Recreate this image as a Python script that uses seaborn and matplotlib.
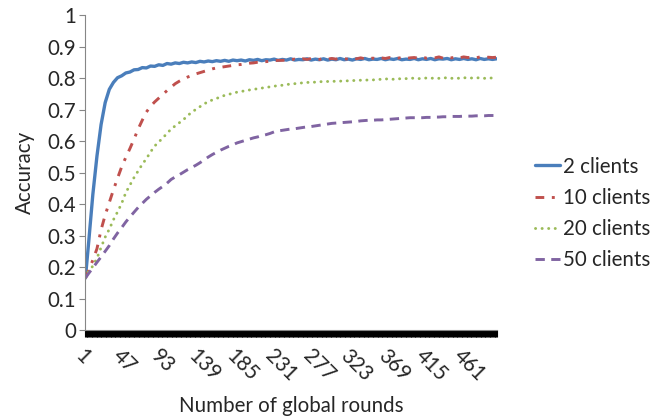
import numpy as np
import pandas as pd
import matplotlib
matplotlib.use("Agg")
import matplotlib.pyplot as plt
import seaborn as sns

# Training rounds at which accuracy was recorded (round 1, then every 5 rounds)
rounds = [1] + list(range(5, 501, 5))

acc_2_clients = [
    0.165, 0.280, 0.430, 0.552, 0.652, 0.722, 0.764, 0.786, 0.801, 0.807,
    0.816, 0.819, 0.826, 0.827, 0.833, 0.832, 0.838, 0.837, 0.842, 0.840,
    0.846, 0.844, 0.848, 0.846, 0.850, 0.848, 0.851, 0.849, 0.853, 0.851,
    0.854, 0.852, 0.855, 0.853, 0.856, 0.853, 0.857, 0.855, 0.857, 0.854,
    0.858, 0.856, 0.859, 0.855, 0.858, 0.857, 0.860, 0.856, 0.859, 0.857,
    0.861, 0.857, 0.859, 0.858, 0.861, 0.857, 0.860, 0.858, 0.861, 0.857,
    0.860, 0.858, 0.862, 0.858, 0.860, 0.857, 0.861, 0.859, 0.862, 0.858,
    0.860, 0.859, 0.862, 0.858, 0.861, 0.859, 0.862, 0.858, 0.860, 0.859,
    0.862, 0.858, 0.861, 0.859, 0.862, 0.858, 0.861, 0.860, 0.862, 0.858,
    0.861, 0.859, 0.862, 0.859, 0.861, 0.858, 0.862, 0.859, 0.861, 0.859,
    0.861,
]

acc_10_clients = [
    0.165, 0.190, 0.222, 0.258, 0.318, 0.365, 0.405, 0.445, 0.482, 0.518,
    0.548, 0.576, 0.606, 0.638, 0.666, 0.692, 0.710, 0.724, 0.736, 0.748,
    0.760, 0.771, 0.782, 0.790, 0.797, 0.803, 0.808, 0.813, 0.817, 0.821,
    0.825, 0.829, 0.832, 0.834, 0.836, 0.838, 0.840, 0.842, 0.843, 0.845,
    0.847, 0.848, 0.850, 0.851, 0.852, 0.853, 0.855, 0.856, 0.856, 0.857,
    0.858, 0.860, 0.858, 0.861, 0.859, 0.862, 0.860, 0.859, 0.862, 0.860,
    0.862, 0.860, 0.863, 0.861, 0.860, 0.863, 0.861, 0.864, 0.861, 0.862,
    0.863, 0.861, 0.864, 0.862, 0.865, 0.862, 0.863, 0.865, 0.862, 0.864,
    0.865, 0.863, 0.866, 0.863, 0.865, 0.864, 0.867, 0.863, 0.866, 0.864,
    0.866, 0.864, 0.867, 0.865, 0.866, 0.864, 0.867, 0.865, 0.866, 0.865,
    0.866,
]

acc_20_clients = [
    0.165, 0.187, 0.203, 0.228, 0.262, 0.295, 0.320, 0.350, 0.375, 0.402,
    0.436, 0.460, 0.484, 0.505, 0.526, 0.544, 0.565, 0.584, 0.597, 0.610,
    0.624, 0.638, 0.648, 0.658, 0.668, 0.680, 0.692, 0.700, 0.709, 0.717,
    0.726, 0.730, 0.735, 0.740, 0.745, 0.748, 0.752, 0.755, 0.757, 0.760,
    0.762, 0.764, 0.766, 0.768, 0.770, 0.772, 0.774, 0.776, 0.777, 0.779,
    0.781, 0.782, 0.783, 0.785, 0.786, 0.786, 0.787, 0.788, 0.789, 0.789,
    0.789, 0.790, 0.790, 0.791, 0.791, 0.792, 0.792, 0.793, 0.793, 0.794,
    0.794, 0.795, 0.796, 0.797, 0.797, 0.796, 0.798, 0.797, 0.798, 0.800,
    0.799, 0.798, 0.799, 0.800, 0.799, 0.800, 0.799, 0.800, 0.801, 0.799,
    0.800, 0.799, 0.801, 0.800, 0.800, 0.801, 0.800, 0.799, 0.800, 0.800,
    0.800,
]

acc_50_clients = [
    0.165, 0.180, 0.197, 0.215, 0.232, 0.250, 0.268, 0.289, 0.308, 0.325,
    0.343, 0.359, 0.374, 0.389, 0.402, 0.415, 0.426, 0.437, 0.447, 0.456,
    0.466, 0.478, 0.486, 0.493, 0.501, 0.509, 0.516, 0.523, 0.531, 0.540,
    0.549, 0.557, 0.564, 0.571, 0.577, 0.583, 0.588, 0.594, 0.598, 0.602,
    0.606, 0.610, 0.613, 0.617, 0.620, 0.624, 0.629, 0.632, 0.634, 0.636,
    0.638, 0.639, 0.641, 0.643, 0.645, 0.646, 0.648, 0.650, 0.652, 0.654,
    0.656, 0.657, 0.658, 0.659, 0.660, 0.661, 0.662, 0.664, 0.665, 0.666,
    0.666, 0.667, 0.667, 0.668, 0.669, 0.670, 0.671, 0.672, 0.673, 0.674,
    0.674, 0.674, 0.674, 0.675, 0.675, 0.676, 0.676, 0.677, 0.677, 0.678,
    0.678, 0.678, 0.679, 0.679, 0.679, 0.680, 0.680, 0.680, 0.681, 0.681,
    0.681,
]

series_names = ["2 clients", "10 clients", "20 clients", "50 clients"]
series_values = [acc_2_clients, acc_10_clients, acc_20_clients, acc_50_clients]

n_rounds = 500
x_tick_labels = list(range(1, n_rounds + 1, 46))
y_ticks = [round(0.1 * i, 1) for i in range(11)]
y_tick_labels = ["0", "0.1", "0.2", "0.3", "0.4", "0.5", "0.6", "0.7", "0.8", "0.9", "1"]

df = pd.concat(
    [pd.DataFrame({"round": rounds, "acc": vals, "series": name})
     for name, vals in zip(series_names, series_values)],
    ignore_index=True,
)

sns.set_style("white")
plt.rcParams["font.family"] = ["Lato", "DejaVu Sans"]
FS = 14.8

palette = {
    "2 clients": "#4A7EBB",
    "10 clients": "#C0504D",
    "20 clients": "#9BBB59",
    "50 clients": "#8064A2",
}
dashes = {
    "2 clients": "",
    "10 clients": (3.0, 2.6, 1.0, 2.6),
    "20 clients": (0.05, 2.2),
    "50 clients": (3.2, 2.2),
}

fig = plt.figure(figsize=(6.62, 4.17), dpi=100)
ax = fig.add_axes([0.1284, 0.2086, 0.6224, 0.7554])

sns.lineplot(
    data=df, x="round", y="acc", hue="series", style="series",
    hue_order=series_names, style_order=series_names,
    palette=palette, dashes=dashes, linewidth=2.1, legend=False, ax=ax,
)

lines = ax.get_lines()
lines[0].set_solid_capstyle("round")
lines[0].set_linewidth(2.4)
lines[2].set_dash_capstyle("round")

ax.set_xlim(0.5, n_rounds + 0.5)
ax.set_ylim(0, 1)

# category tick marks between every round form the solid band on the x axis
ax.set_xticks(np.arange(0.5, n_rounds + 1, 1.0), minor=True)
ax.set_xticks(x_tick_labels)
ax.set_xticklabels([str(v) for v in x_tick_labels], rotation=-45,
                   ha="left", va="top", rotation_mode="anchor", fontsize=FS)
ax.tick_params(axis="x", which="major", length=0, pad=11)
ax.tick_params(axis="x", which="minor", length=5, width=0.8, color="black",
               direction="out", bottom=True)

ax.set_yticks(y_ticks)
ax.set_yticklabels(y_tick_labels, fontsize=FS)
ax.tick_params(axis="y", which="major", length=4.5, width=0.8, color="#868686",
               direction="out", pad=2, left=True)

for side in ("top", "right"):
    ax.spines[side].set_visible(False)
ax.spines["left"].set_color("#868686")
ax.spines["bottom"].set_color("#868686")

ax.set_xlabel("Number of global rounds", fontsize=FS, labelpad=8)
ax.set_ylabel("Accuracy", fontsize=FS, labelpad=9)

ax.legend(
    handles=lines, labels=series_names, loc="center left",
    bbox_to_anchor=(535 / 662, 1 - 213.5 / 417), bbox_transform=fig.transFigure,
    frameon=False, fontsize=FS, handlelength=1.2, handletextpad=0.15,
    labelspacing=0.55, borderpad=0, borderaxespad=0,
)

fig.savefig("out.png", dpi=100)
